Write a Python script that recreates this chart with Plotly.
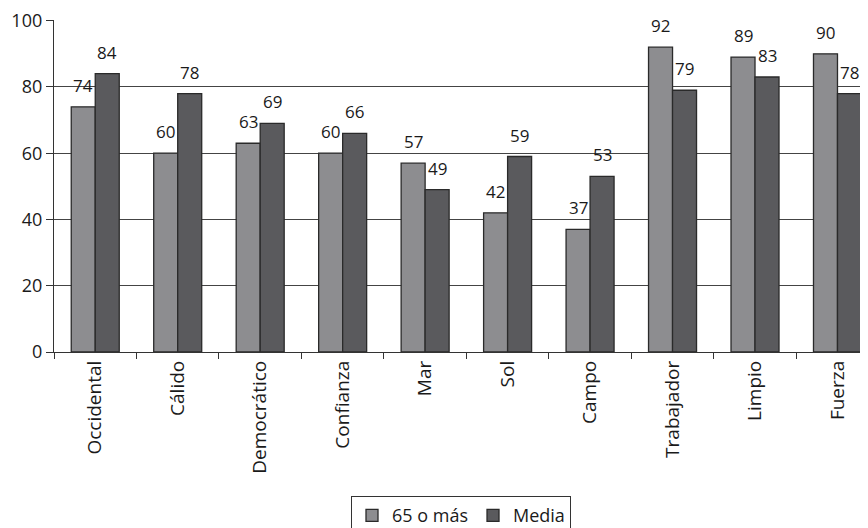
import plotly.graph_objects as go

categories = ["Occidental", "Cálido", "Democrático", "Confianza", "Mar", "Sol", "Campo", "Trabajador", "Limpio", "Fuerza"]
mayores = [74, 60, 63, 60, 57, 42, 37, 92, 89, 90]
media = [84, 78, 69, 66, 49, 59, 53, 79, 83, 78]

font_family = "Open Sans, Noto Sans, DejaVu Sans, sans-serif"
text_color = "#1a1a1a"

fig = go.Figure()
fig.add_trace(go.Bar(
    x=categories, y=mayores, name="65 o más",
    marker=dict(color="#8d8d90", line=dict(color="#2a2a2a", width=1.3)),
))
fig.add_trace(go.Bar(
    x=categories, y=media, name="Media",
    marker=dict(color="#5a5a5d", line=dict(color="#2a2a2a", width=1.3)),
))

annotations = []
for cat, v1, v2 in zip(categories, mayores, media):
    annotations.append(dict(x=cat, y=v1, text=str(v1), showarrow=False, xref="x", yref="y",
                            xanchor="center", yanchor="bottom", xshift=-12, yshift=8,
                            font=dict(size=17, color=text_color, family=font_family)))
    annotations.append(dict(x=cat, y=v2, text=str(v2), showarrow=False, xref="x", yref="y",
                            xanchor="center", yanchor="bottom", xshift=12, yshift=8,
                            font=dict(size=17, color=text_color, family=font_family)))

fig.update_layout(
    width=860, height=520,
    margin=dict(l=46, r=0, t=12, b=176, autoexpand=False),
    paper_bgcolor="white", plot_bgcolor="white",
    font=dict(family=font_family, size=16, color=text_color),
    barmode="group", bargap=0.418, bargroupgap=0,
    showlegend=True,
    annotations=annotations,
    legend=dict(
        orientation="h", x=0.5, xanchor="center", y=-0.434, yanchor="top",
        bordercolor="#333333", borderwidth=1, font=dict(size=18),
        itemwidth=30, tracegroupgap=0,
    ),
    xaxis=dict(
        range=[-0.5, 9.37], tickangle=-90, showgrid=False, automargin=False,
        showline=True, linecolor="#333333", linewidth=1.3,
        ticks="outside", tickson="boundaries", ticklen=6, tickcolor="#333333",
        tickfont=dict(size=19),
    ),
    yaxis=dict(
        range=[0, 100.2], tickmode="array", tickvals=[0, 20, 40, 60, 80, 100],
        showgrid=True, gridcolor="#444444", gridwidth=1.3,
        showline=True, linecolor="#333333", linewidth=1.3, automargin=False,
        ticks="outside", ticklen=7, tickcolor="#333333", ticklabeloverflow="allow",
        tickfont=dict(size=18), zeroline=False,
    ),
)

fig.write_html("out.html")
